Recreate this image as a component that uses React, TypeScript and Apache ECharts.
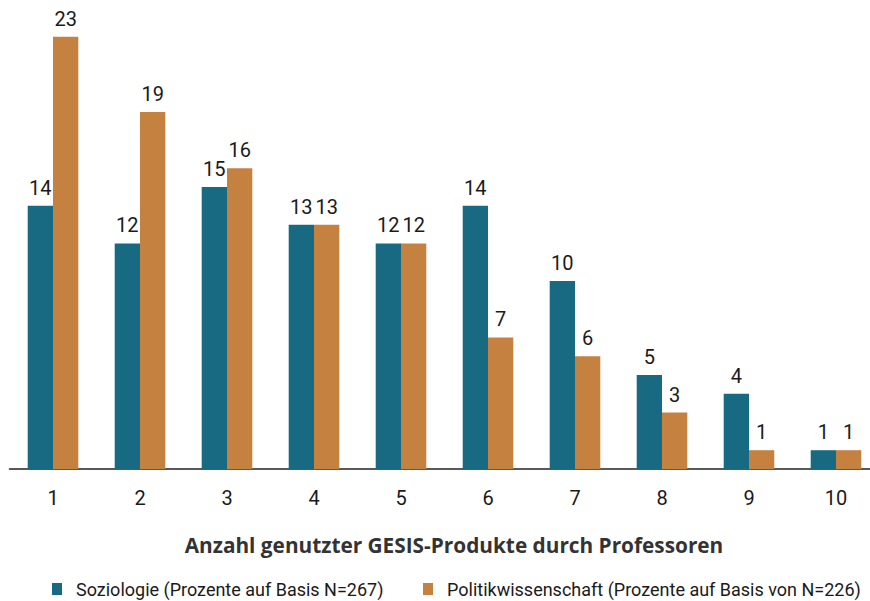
import React, { useEffect, useRef } from "react";
import * as echarts from "echarts";

const categories = ["1", "2", "3", "4", "5", "6", "7", "8", "9", "10"];
const soziologie = [14, 12, 15, 13, 12, 14, 10, 5, 4, 1];
const politik = [23, 19, 16, 13, 12, 7, 6, 3, 1, 1];
const seriesNames = [
  "Soziologie (Prozente auf Basis N=267)",
  "Politikwissenschaft (Prozente auf Basis von N=226)",
];
const xTitle = "Anzahl genutzter GESIS-Produkte durch Professoren";

const NARROW = "Roboto, sans-serif";

export default function App() {
  const ref = useRef<HTMLDivElement>(null);
  useEffect(() => {
    if (!ref.current) return;
    const chart = echarts.init(ref.current, undefined, { renderer: "svg" });
    const label = {
      show: true,
      position: "top" as const,
      distance: 8,
      fontFamily: NARROW,
      fontSize: 20,
      color: "#1a1a1a",
    };
    const legendText = {
      fontFamily: NARROW,
      fontSize: 18,
      color: "#1a1a1a",
      padding: [0, 0, 0, 9],
    };
    chart.setOption({
      animation: false,
      backgroundColor: "#ffffff",
      title: {
        text: xTitle,
        left: 449,
        textAlign: "center",
        top: 529,
        textStyle: {
          fontFamily: "'Open Sans', sans-serif",
          fontWeight: "bold",
          fontSize: 20.8,
          color: "#333333",
        },
      },
      legend: [
        {
          left: 47,
          top: 575,
          itemWidth: 10,
          itemHeight: 12,
          icon: "rect",
          textStyle: legendText,
          data: [seriesNames[0]],
        },
        {
          left: 418,
          top: 575,
          itemWidth: 10,
          itemHeight: 12,
          icon: "rect",
          textStyle: legendText,
          data: [seriesNames[1]],
        },
      ],
      grid: {
        left: 9.5,
        width: 870,
        top: 36.7,
        bottom: 132,
        outerBoundsMode: "none",
        containLabel: false,
      },
      xAxis: {
        type: "category",
        data: categories,
        axisLine: { lineStyle: { color: "#222222", width: 1.5 } },
        axisTick: { length: 7, lineStyle: { color: "#777777", width: 1.5 } },
        axisLabel: {
          margin: 19,
          fontFamily: NARROW,
          fontSize: 20,
          color: "#1a1a1a",
        },
      },
      yAxis: {
        type: "value",
        min: 0,
        max: 23,
        show: false,
        splitLine: { show: false },
      },
      series: [
        {
          name: seriesNames[0],
          type: "bar",
          data: soziologie,
          barWidth: 25.3,
          barGap: "0%",
          itemStyle: { color: "#186a82" },
          label,
        },
        {
          name: seriesNames[1],
          type: "bar",
          data: politik,
          barWidth: 25.3,
          barGap: "0%",
          itemStyle: { color: "#c58140" },
          label,
        },
      ],
    });
    return () => chart.dispose();
  }, []);
  return (
    <div
      ref={ref}
      style={{ position: "fixed", left: 0, top: 0, width: 870, height: 601 }}
    />
  );
}
